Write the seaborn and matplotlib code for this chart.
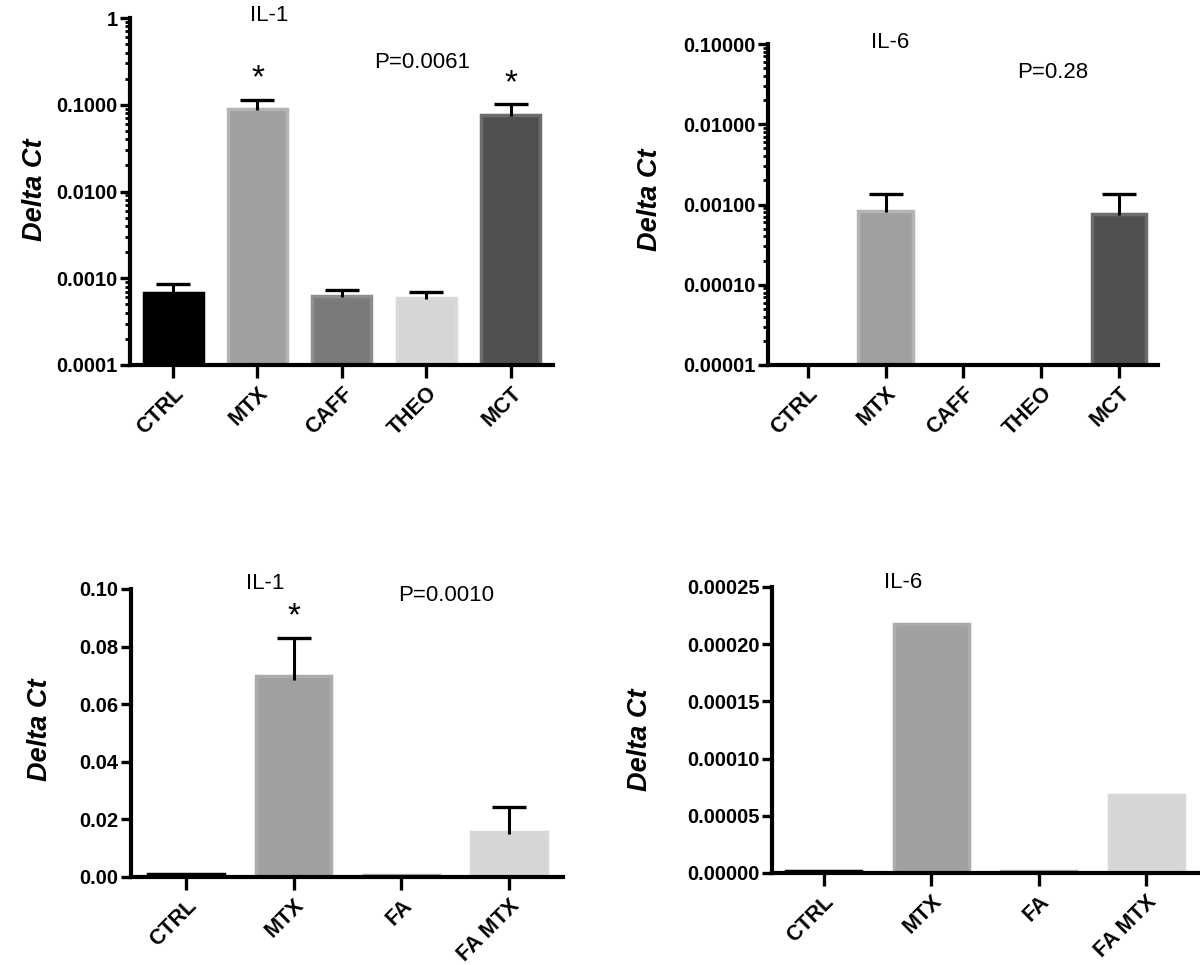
import numpy as np
import matplotlib
matplotlib.use("Agg")
import matplotlib.pyplot as plt
import matplotlib.ticker as mticker
import seaborn as sns

# top row: IL-1 / IL-6, log scale
top_cats = ["CTRL", "MTX", "CAFF", "THEO", "MCT"]
top_colors = ["#000000", "#a0a0a0", "#7a7a7a", "#d6d6d6", "#505050"]
top_edges = ["#000000", "#b4b4b4", "#8e8e8e", "#dadada", "#6c6c6c"]
il1_top_mean = [0.00067, 0.090, 0.00062, 0.00059, 0.0755]
il1_top_err = [0.00086, 0.113, 0.00074, 0.00069, 0.101]
il6_top_mean = [np.nan, 0.00084, np.nan, np.nan, 0.00077]
il6_top_err = [np.nan, 0.00136, np.nan, np.nan, 0.00136]

# bottom row: IL-1 / IL-6, linear scale
bot_cats = ["CTRL", "MTX", "FA", "FA MTX"]
bot_colors = ["#000000", "#a0a0a0", "#a8a8a8", "#d6d6d6"]
bot_edges = ["#000000", "#ababab", "#b0b0b0", "#d8d8d8"]
il1_bot_mean = [0.0010, 0.0697, 0.0008, 0.0157]
il1_bot_err = [np.nan, 0.0830, np.nan, 0.0242]
il6_bot_mean = [0.000002, 0.000218, 0.0000017, 0.0000685]

sns.set_style("ticks")
plt.rcParams["font.family"] = ["Liberation Sans", "DejaVu Sans"]
for key in ["text.color", "axes.labelcolor", "xtick.color", "ytick.color", "axes.edgecolor"]:
    plt.rcParams[key] = "black"

fig = plt.figure(figsize=(12, 9.65), dpi=100)

W, H = 1200, 965


def add_axes(left, right, top, bottom):
    return fig.add_axes([left / W, 1 - bottom / H, (right - left) / W, (bottom - top) / H])


def draw_bars(ax, cats, vals, colors, edges):
    sns.barplot(x=cats, y=vals, hue=cats, palette=colors, hue_order=cats,
                order=cats, width=0.7, legend=False, ax=ax, saturation=1)
    for p in ax.patches:
        idx = int(round(p.get_x() + p.get_width() / 2))
        p.set_edgecolor(edges[idx])
        p.set_linewidth(2.5)


def draw_err(ax, vals, errs):
    for i, (m, e) in enumerate(zip(vals, errs)):
        if np.isnan(e):
            continue
        # error bar starts a little inside the bar, like GraphPad
        low = m * 0.97 if ax.get_yscale() == "log" else m - (e - m) * 0.1
        ax.plot([i, i], [low, e], color="black", lw=2.2, solid_capstyle="butt", zorder=5)
        ax.plot([i], [e], marker="_", markersize=24, mew=2.4, color="black", zorder=5)


def style_axes(ax, xlim):
    ax.set_xlim(*xlim)
    for s in ["top", "right"]:
        ax.spines[s].set_visible(False)
    for s in ["left", "bottom"]:
        ax.spines[s].set_linewidth(3)
    ax.tick_params(axis="y", which="major", length=7, width=2.4, pad=2, labelsize=14.5)
    ax.tick_params(axis="y", which="minor", length=3.5, width=2, left=True)
    ax.tick_params(axis="x", which="major", length=9, width=2.4, pad=4)
    for lab in ax.get_yticklabels():
        lab.set_fontweight("bold")
    ax.set_xticks(ax.get_xticks())
    ax.set_xticklabels([t.get_text() for t in ax.get_xticklabels()], rotation=45,
                       ha="right", va="top", rotation_mode="anchor", fontweight="bold", fontsize=15.5)
    ax.set_xlabel("")
    ax.set_ylabel("")


def star(ax, i, y):
    ax.annotate("*", xy=(i, y), xytext=(0, 4), textcoords="offset points",
                ha="center", va="bottom", fontsize=24)


# --- top left
ax1 = add_axes(130, 553, 18, 365)
draw_bars(ax1, top_cats, il1_top_mean, top_colors, top_edges)
ax1.set_yscale("log")
ax1.set_ylim(0.0001, 1)
draw_err(ax1, il1_top_mean, il1_top_err)
ax1.set_yticks([0.0001, 0.001, 0.01, 0.1, 1])
ax1.set_yticklabels(["0.0001", "0.0010", "0.0100", "0.1000", "1"])
ax1.yaxis.set_minor_locator(mticker.LogLocator(base=10, subs=np.arange(2, 10)))
ax1.yaxis.set_minor_formatter(mticker.NullFormatter())
style_axes(ax1, (-0.51, 4.5))
star(ax1, 1, il1_top_err[1])
star(ax1, 4, il1_top_err[4])
ax1.text(0.33, 1.006, "IL-1", transform=ax1.transAxes, ha="center", va="center", fontsize=16)
ax1.text(0.69, 0.873, "P=0.0061", transform=ax1.transAxes, ha="center", va="center", fontsize=16)

# --- top right
ax2 = add_axes(768, 1158, 44, 365)
draw_bars(ax2, top_cats, il6_top_mean, top_colors, top_edges)
ax2.set_yscale("log")
ax2.set_ylim(0.00001, 0.1)
draw_err(ax2, il6_top_mean, il6_top_err)
ax2.set_yticks([0.00001, 0.0001, 0.001, 0.01, 0.1])
ax2.set_yticklabels(["0.00001", "0.00010", "0.00100", "0.01000", "0.10000"])
ax2.yaxis.set_minor_locator(mticker.LogLocator(base=10, subs=np.arange(2, 10)))
ax2.yaxis.set_minor_formatter(mticker.NullFormatter())
style_axes(ax2, (-0.51, 4.5))
ax2.text(0.313, 1.006, "IL-6", transform=ax2.transAxes, ha="center", va="center", fontsize=16)
ax2.text(0.73, 0.91, "P=0.28", transform=ax2.transAxes, ha="center", va="center", fontsize=16)

# --- bottom left
ax3 = add_axes(131, 563, 589, 877)
draw_bars(ax3, bot_cats, il1_bot_mean, bot_colors, bot_edges)
ax3.set_ylim(0, 0.10)
draw_err(ax3, il1_bot_mean, il1_bot_err)
ax3.set_yticks(np.arange(0, 0.101, 0.02))
ax3.yaxis.set_major_formatter(mticker.FormatStrFormatter("%.2f"))
style_axes(ax3, (-0.51, 3.5))
star(ax3, 1, il1_bot_err[1])
ax3.text(0.31, 1.02, "IL-1", transform=ax3.transAxes, ha="center", va="center", fontsize=16)
ax3.text(0.73, 0.976, "P=0.0010", transform=ax3.transAxes, ha="center", va="center", fontsize=16)

# --- bottom right
ax4 = add_axes(772, 1200, 587, 873)
draw_bars(ax4, bot_cats, il6_bot_mean, bot_colors, bot_edges)
ax4.set_ylim(0, 0.00025)
ax4.set_yticks(np.arange(0, 0.000251, 0.00005))
ax4.yaxis.set_major_formatter(mticker.FormatStrFormatter("%.5f"))
style_axes(ax4, (-0.48, 3.5))
ax4.text(0.306, 1.014, "IL-6", transform=ax4.transAxes, ha="center", va="center", fontsize=16)

# y labels
for x, y in [(35, 190), (650, 200), (40, 730), (640, 740)]:
    fig.text(x / W, 1 - y / H, "Delta Ct", rotation=90, ha="center", va="center",
             fontsize=19.5, fontweight="bold", fontstyle="italic")

fig.savefig("out.png", dpi=100)
